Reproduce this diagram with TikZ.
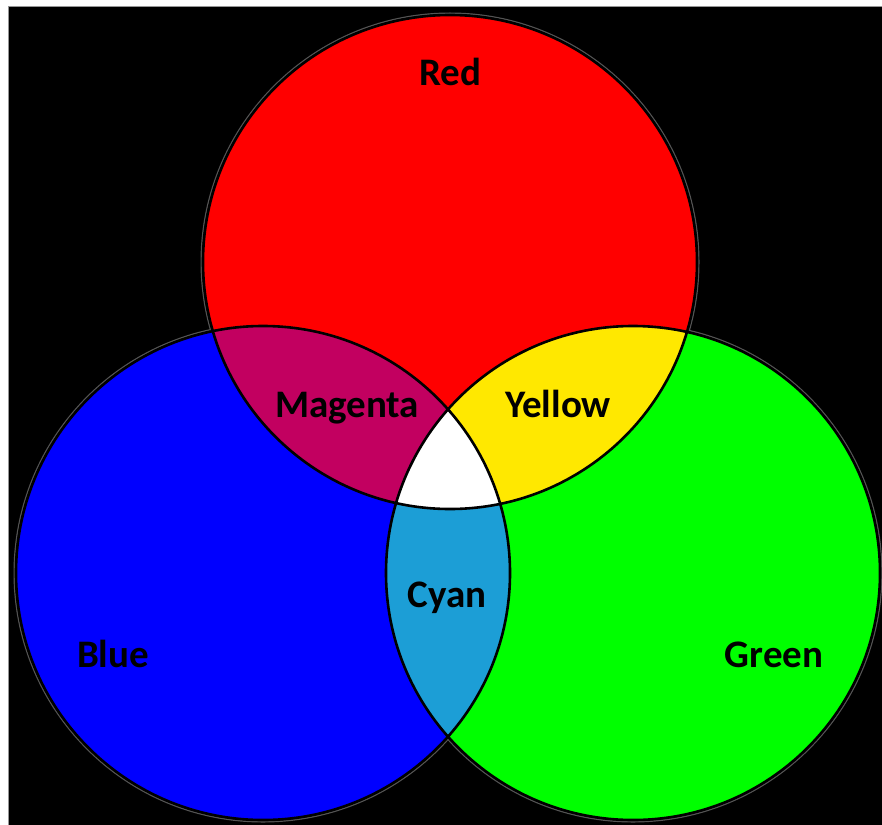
\documentclass[tikz,border=0pt]{standalone}
\usepackage{fontspec}
\setsansfont{Carlito}
\usepackage{tikz}
\usetikzlibrary{positioning, calc}
\definecolor{lightred}{RGB}{255, 0, 0}
\definecolor{lightgreen}{RGB}{0, 255, 0}
\definecolor{lightblue}{RGB}{0, 0, 255}
\definecolor{mixmagenta}{RGB}{194, 0, 96}
\definecolor{mixyellow}{RGB}{255, 232, 0}
\definecolor{mixcyan}{RGB}{28, 158, 214}
\definecolor{framegray}{RGB}{150, 150, 150}
\definecolor{halogray}{RGB}{85, 85, 85}
\tikzset{
  font=\sffamily\bfseries\fontsize{39}{47}\selectfont,
  vennradius/.style={radius=247pt},
  haloradius/.style={radius=248.8pt},
  vennhalo/.style={draw=halogray, line width=1.4pt},
  vennedge/.style={draw=black, line width=2.6pt},
  vennlabel/.style={anchor=base, text=black, inner sep=0pt}
}
\begin{document}
\begin{tikzpicture}[x=1pt, y=-1pt]

  % Canvas
  \useasboundingbox (0,0) rectangle (882,824);
  \fill[white] (0,0) rectangle (882,824);
  \fill[black, draw=framegray, line width=0.8pt] (8,6) rectangle (883,825);

  % Circle centres
  \coordinate (redc) at (450,262);
  \coordinate (bluec) at (263,573);
  \coordinate (greenc) at (633,573);

  % Outer halo
  \foreach \c in {redc, bluec, greenc}
    \draw[vennhalo] (\c) circle[haloradius];

  % Primary discs
  \fill[lightred] (redc) circle[vennradius];
  \fill[lightblue] (bluec) circle[vennradius];
  \fill[lightgreen] (greenc) circle[vennradius];

  % Overlaps
  \begin{scope}
    \clip (redc) circle[vennradius];
    \fill[mixmagenta] (bluec) circle[vennradius];
    \fill[mixyellow] (greenc) circle[vennradius];
  \end{scope}
  \begin{scope}
    \clip (bluec) circle[vennradius];
    \fill[mixcyan] (greenc) circle[vennradius];
  \end{scope}
  \begin{scope}
    \clip (redc) circle[vennradius];
    \clip (bluec) circle[vennradius];
    \fill[white] (greenc) circle[vennradius];
  \end{scope}

  % Outlines
  \foreach \c in {redc, bluec, greenc}
    \draw[vennedge] (\c) circle[vennradius];

  % Labels
  \node[vennlabel] (redtext) at (450,85) {Red};
  \node[vennlabel] (magentatext) at (347,417) {Magenta};
  \node[vennlabel] (yellowtext) at (558,417) {Yellow};
  \node[vennlabel] (cyantext) at (447,607) {Cyan};
  \node[vennlabel] (bluetext) at (113,667) {Blue};
  \node[vennlabel] (greentext) at (774,667) {Green};

\end{tikzpicture}
\end{document}
